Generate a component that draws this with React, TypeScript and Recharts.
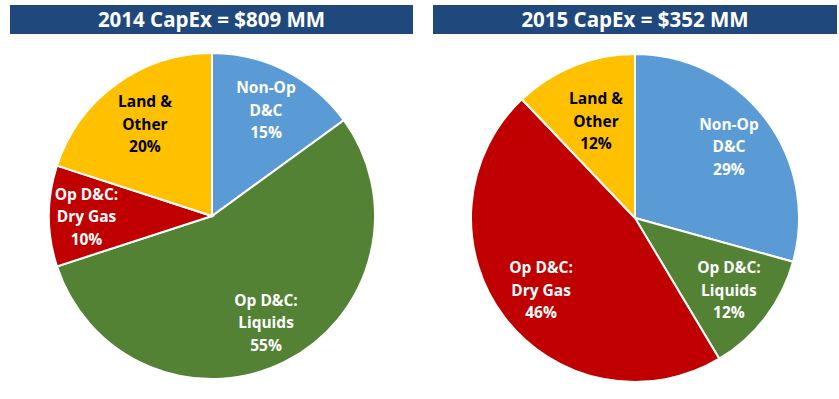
import React from "react";
import { PieChart, Pie, Cell } from "recharts";

const categories = ["Non-Op D&C", "Op D&C: Liquids", "Op D&C: Dry Gas", "Land & Other"];
const labelLines = [
  ["Non-Op", "D&C"],
  ["Op D&C:", "Liquids"],
  ["Op D&C:", "Dry Gas"],
  ["Land &", "Other"],
];
const capex2014 = [15, 55, 10, 20];
const capex2015 = [29, 12, 46, 12];
const titles = ["2014 CapEx = $809 MM", "2015 CapEx = $352 MM"];

const colors = ["#5B9BD5", "#548235", "#C00000", "#FFC000"];
const labelColors = ["#fff", "#fff", "#fff", "#000"];

// how far out (fraction of radius) each label sits
const labelPos2014 = [0.73, 0.73, 0.77, 0.7];
const labelPos2015 = [0.72, 0.72, 0.72, 0.64];

const FONT = "'Open Sans', 'Noto Sans', sans-serif";
const RAD = Math.PI / 180;

const toRows = (values: number[]) =>
  categories.map((name, i) => ({ name, value: values[i], idx: i }));

const makeLabel = (pos: number[]) => (props: any) => {
  const { cx, cy, midAngle, outerRadius, value, index } = props;
  const r = outerRadius * pos[index];
  const x = cx + r * Math.cos(-midAngle * RAD);
  const y = cy + r * Math.sin(-midAngle * RAD);
  const lines = [...labelLines[index], `${value}%`];
  return (
    <text
      key={`lbl-${index}`}
      x={x}
      y={y}
      textAnchor="middle"
      fill={labelColors[index]}
      fontFamily={FONT}
      fontWeight={700}
      fontSize={15.5}
    >
      {lines.map((ln, i) => (
        <tspan key={i} x={x} y={y + (i - 1) * 22.5} dominantBaseline="central">
          {ln}
        </tspan>
      ))}
    </text>
  );
};

const titleStyle = (left: number, width: number): React.CSSProperties => ({
  position: "absolute",
  left,
  top: 5,
  width,
  height: 29,
  background: "#1F497D",
  color: "#fff",
  fontFamily: FONT,
  fontWeight: 700,
  fontSize: 20.5,
  lineHeight: "29px",
  textAlign: "center",
});

export default function App() {
  return (
    <div style={{ position: "absolute", left: 0, top: 0, width: 839, height: 399, background: "#fff" }}>
      <PieChart width={839} height={399} margin={{ top: 0, right: 0, bottom: 0, left: 0 }}>
        <Pie
          data={toRows(capex2014)}
          dataKey="value"
          nameKey="name"
          cx={212}
          cy={216}
          outerRadius={163}
          startAngle={90}
          endAngle={-270}
          stroke="#fff"
          strokeWidth={2}
          labelLine={false}
          label={makeLabel(labelPos2014)}
          isAnimationActive={false}
        >
          {capex2014.map((_, i) => (
            <Cell key={i} fill={colors[i]} />
          ))}
        </Pie>
        <Pie
          data={toRows(capex2015)}
          dataKey="value"
          nameKey="name"
          cx={635}
          cy={218}
          outerRadius={164}
          startAngle={90}
          endAngle={-270}
          stroke="#fff"
          strokeWidth={2}
          labelLine={false}
          label={makeLabel(labelPos2015)}
          isAnimationActive={false}
        >
          {capex2015.map((_, i) => (
            <Cell key={i} fill={colors[i]} />
          ))}
        </Pie>
      </PieChart>
      <div style={titleStyle(10, 403)}>{titles[0]}</div>
      <div style={titleStyle(433, 404)}>{titles[1]}</div>
    </div>
  );
}
